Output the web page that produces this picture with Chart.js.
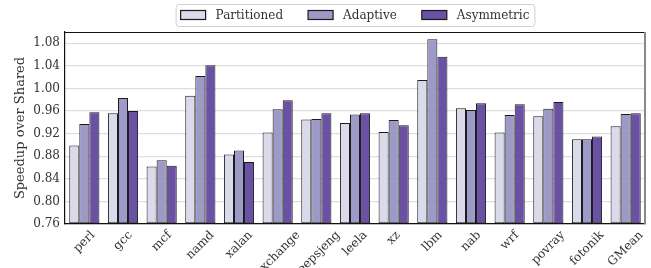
<!DOCTYPE html>
<html>
<head>
<meta charset="utf-8">
<script src="https://cdn.jsdelivr.net/npm/chart.js@4.4.1/dist/chart.umd.min.js"></script>
<style>
  html, body { margin: 0; padding: 0; background: #fff; }
  #wrap { width: 651px; height: 268px; }
</style>
</head>
<body>
<div id="wrap"><canvas id="chart" width="651" height="268"></canvas></div>
<script>
const categories = ['perl', 'gcc', 'mcf', 'namd', 'xalan', 'exchange', 'deepsjeng', 'leela', 'xz', 'lbm', 'nab', 'wrf', 'povray', 'fotonik', 'GMean'];
const seriesNames = ['Partitioned', 'Adaptive', 'Asymmetric'];
const partitioned = [0.899, 0.956, 0.862, 0.987, 0.883, 0.922, 0.945, 0.939, 0.923, 1.015, 0.965, 0.922, 0.951, 0.910, 0.933];
const adaptive = [0.937, 0.983, 0.873, 1.022, 0.890, 0.963, 0.946, 0.954, 0.944, 1.087, 0.962, 0.953, 0.964, 0.910, 0.955];
const asymmetric = [0.958, 0.960, 0.863, 1.041, 0.870, 0.979, 0.956, 0.956, 0.935, 1.056, 0.974, 0.972, 0.976, 0.915, 0.956];
const yTicks = [0.76, 0.80, 0.84, 0.88, 0.92, 0.96, 1.00, 1.04, 1.08];
const yMin = 0.76;
const yMax = 1.10;

const colors = ['#dadaeb', '#9e9ac8', '#6a51a3'];
const font = 'DejaVu Serif';

function makeSet(name, data, i) {
    return {
        label: name,
        data: data,
        backgroundColor: colors[i],
        borderColor: '#1a1a1a',
        borderWidth: 1,
        borderSkipped: false,
        base: yMin,
        categoryPercentage: 0.78,
        barPercentage: 1.0
    };
}

// matplotlib-style rotated x labels, centred under each group
const xLabels = {
    id: 'xLabels',
    afterDraw(chart) {
        const ctx = chart.ctx;
        const xs = chart.scales.x;
        const top = chart.chartArea.bottom + 5;
        ctx.save();
        ctx.font = '12px "' + font + '"';
        ctx.fillStyle = '#333';
        ctx.textAlign = 'center';
        ctx.textBaseline = 'middle';
        const h = 12;
        categories.forEach((c, i) => {
            const w = ctx.measureText(c).width;
            const half = (w + h) * Math.SQRT1_2 / 2;
            const x = xs.getPixelForTick(i);
            ctx.save();
            ctx.translate(x, top + half);
            ctx.rotate(-Math.PI / 4);
            ctx.fillText(c, 0, 0);
            ctx.restore();
        });
        ctx.restore();
    }
};

// top/right frame of the axes
const frame = {
    id: 'frame',
    afterDatasetsDraw(chart) {
        const a = chart.chartArea;
        const ctx = chart.ctx;
        ctx.save();
        ctx.lineWidth = 1.2;
        ctx.strokeStyle = '#111';
        ctx.beginPath();
        ctx.moveTo(a.left, a.top + 0.5);
        ctx.lineTo(a.right, a.top + 0.5);
        ctx.stroke();
        ctx.strokeStyle = '#888';
        ctx.lineWidth = 2;
        ctx.beginPath();
        ctx.moveTo(a.right, a.top);
        ctx.lineTo(a.right, a.bottom);
        ctx.stroke();
        ctx.restore();
    }
};

// framed legend at the top, like matplotlib's
const boxLegend = {
    id: 'boxLegend',
    afterDraw(chart) {
        const ctx = chart.ctx;
        const sets = chart.data.datasets;
        ctx.save();
        ctx.font = '12px "' + font + '"';
        const sw = 25, sh = 9, gap = 10, itemGap = 25, pad = 5;
        const widths = sets.map(s => ctx.measureText(s.label).width);
        let total = itemGap * (sets.length - 1);
        widths.forEach(w => { total += sw + gap + w; });
        const a = chart.chartArea;
        const cx = (a.left + a.right) / 2;
        let x = cx - total / 2;
        const cy = 15;
        ctx.strokeStyle = '#d0d0d0';
        ctx.lineWidth = 1;
        ctx.beginPath();
        ctx.roundRect(x - pad + 0.5, 4.5, total + 2 * pad, 22, 3);
        ctx.stroke();
        ctx.textBaseline = 'middle';
        ctx.textAlign = 'left';
        sets.forEach((s, i) => {
            ctx.fillStyle = s.backgroundColor;
            ctx.fillRect(x, cy - sh / 2, sw, sh);
            ctx.strokeStyle = '#1a1a1a';
            ctx.lineWidth = 1.2;
            ctx.strokeRect(x, cy - sh / 2, sw, sh);
            ctx.fillStyle = '#333';
            ctx.fillText(s.label, x + sw + gap, cy + 1);
            x += sw + gap + widths[i] + itemGap;
        });
        ctx.restore();
    }
};

const ctx = document.getElementById('chart').getContext('2d');
const chart = new Chart(ctx, {
    type: 'bar',
    data: {
        labels: categories,
        datasets: [
            makeSet(seriesNames[0], partitioned, 0),
            makeSet(seriesNames[1], adaptive, 1),
            makeSet(seriesNames[2], asymmetric, 2)
        ]
    },
    options: {
        responsive: false,
        animation: false,
        devicePixelRatio: 1,
        layout: { padding: { top: 32, bottom: 44, left: 0, right: 6 } },
        plugins: {
            legend: { display: false },
            tooltip: { enabled: false }
        },
        scales: {
            x: {
                grid: { display: false, drawTicks: false },
                border: { display: true, color: '#111', width: 1.2 },
                ticks: { display: false, padding: 0 },
                afterFit(scale) {
                    scale.height = 0;
                }
            },
            y: {
                min: yMin,
                max: yMax,
                afterBuildTicks(scale) {
                    scale.ticks = yTicks.map(v => ({ value: v }));
                },
                afterFit(scale) {
                    scale.width = 65;
                },
                grid: { color: '#dedede', lineWidth: 1.3, drawTicks: false },
                border: { display: true, color: '#111', width: 1.2 },
                ticks: {
                    padding: 5,
                    color: '#333',
                    font: { family: font, size: 12 },
                    callback: v => v.toFixed(2)
                },
                title: {
                    display: true,
                    text: 'Speedup over Shared',
                    color: '#333',
                    font: { family: font, size: 13 },
                    padding: { top: 13, bottom: 0 }
                }
            }
        }
    },
    plugins: [xLabels, frame, boxLegend]
});
</script>
</body>
</html>
